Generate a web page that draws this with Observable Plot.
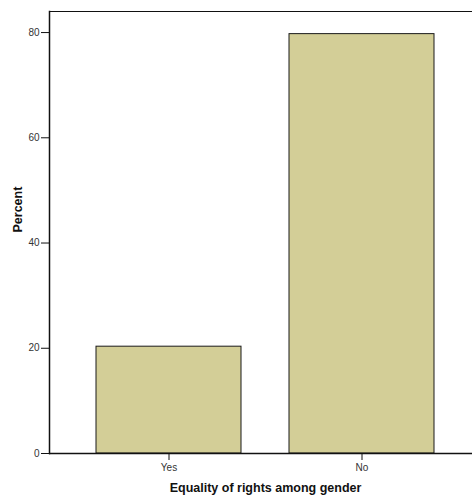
<!DOCTYPE html>
<html>
<head>
<meta charset="utf-8">
<script src="https://cdn.jsdelivr.net/npm/d3@7"></script>
<script src="https://cdn.jsdelivr.net/npm/@observablehq/plot@0.6"></script>
<style>
  html, body { margin: 0; padding: 0; background: #fff; overflow: hidden; }
  svg { display: block; }
</style>
</head>
<body>
<div id="chart"></div>
<script>
const categories = ["Yes", "No"];
const percents = [20.3, 79.7];
const yTicks = [0, 20, 40, 60, 80];
const xTitle = "Equality of rights among gender";
const yTitle = "Percent";

const data = categories.map((c, i) => ({category: c, percent: percents[i]}));
const font = "'Liberation Sans', Arial, sans-serif";

const chart = Plot.plot({
  width: 472,
  height: 498,
  marginLeft: 49,
  marginRight: -9,
  marginTop: 11,
  marginBottom: 45,
  style: {fontFamily: font, background: "#fff", overflow: "visible"},
  x: {domain: categories, paddingInner: 0.25, paddingOuter: 0.24, axis: null},
  y: {domain: [0, 84], axis: null},
  marks: [
    Plot.barY(data, {x: "category", y: "percent", fill: "#d3ce97", stroke: "#1a1a1a", strokeWidth: 1}),
    Plot.ruleY([84], {stroke: "#111", strokeWidth: 1}),
    Plot.frame({anchor: "left", stroke: "#111", strokeWidth: 1.5}),
    Plot.ruleY([0], {stroke: "#111", strokeWidth: 1.5}),
    Plot.axisY({ticks: yTicks, tickSize: 8, tickPadding: 2, fontSize: 10, color: "#333", stroke: "#111", label: null, tickFormat: d => d}),
    Plot.axisX({tickSize: 7, tickPadding: 3, fontSize: 10, color: "#333", stroke: "#111", label: null}),
    Plot.text([xTitle], {frameAnchor: "bottom", dy: 38, fontSize: 12.5, fontWeight: "bold", fill: "#111", lineAnchor: "bottom"}),
    Plot.text([yTitle], {frameAnchor: "left", dx: -32, rotate: -90, fontSize: 12.5, fontWeight: "bold", fill: "#111"})
  ]
});
document.getElementById("chart").appendChild(chart);
</script>
</body>
</html>
